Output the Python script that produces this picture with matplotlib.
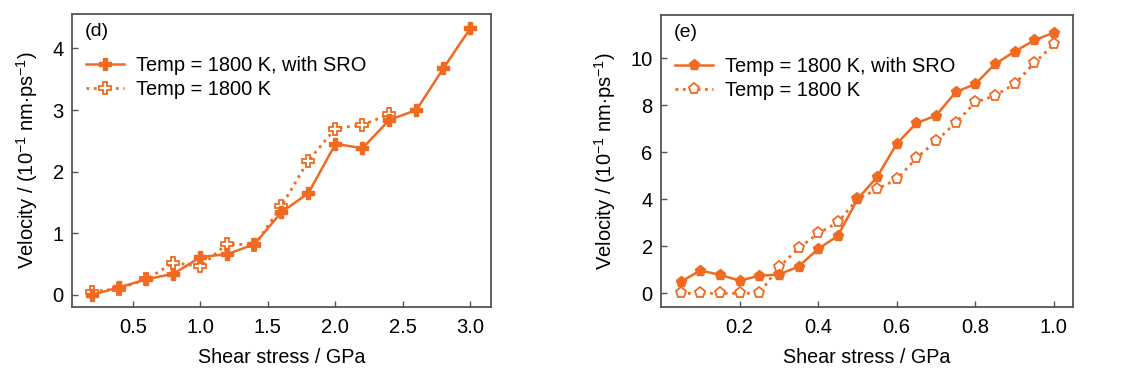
import matplotlib
matplotlib.use("Agg")
import matplotlib.pyplot as plt

plt.rcParams['font.family'] = ['Liberation Sans', 'DejaVu Sans']
plt.rcParams['mathtext.fontset'] = 'custom'
plt.rcParams['mathtext.rm'] = 'Liberation Sans'

ORANGE = '#F06A22'

# panel (d)
stress_d = [0.2, 0.4, 0.6, 0.8, 1.0, 1.2, 1.4, 1.6, 1.8, 2.0, 2.2, 2.4, 2.6, 2.8, 3.0]
sro_d = [0.0, 0.12, 0.25, 0.34, 0.61, 0.66, 0.82, 1.34, 1.65, 2.45, 2.38, 2.84, 3.0, 3.68, 4.33]
stress_d2 = [0.2, 0.4, 0.6, 0.8, 1.0, 1.2, 1.4, 1.6, 1.8, 2.0, 2.2, 2.4]
plain_d = [0.05, 0.1, 0.25, 0.52, 0.46, 0.83, 0.8, 1.44, 2.18, 2.7, 2.76, 2.93]

# panel (e)
stress_e = [0.05, 0.10, 0.15, 0.20, 0.25, 0.30, 0.35, 0.40, 0.45, 0.50,
            0.55, 0.60, 0.65, 0.70, 0.75, 0.80, 0.85, 0.90, 0.95, 1.00]
sro_e = [0.49, 0.97, 0.79, 0.54, 0.75, 0.8, 1.14, 1.89, 2.44, 4.0,
         4.95, 6.36, 7.24, 7.56, 8.56, 8.9, 9.75, 10.28, 10.76, 11.09]
plain_e = [0.0, 0.0, 0.0, 0.0, 0.0, 1.1, 1.92, 2.55, 3.02, 4.0,
           4.43, 4.85, 5.75, 6.47, 7.26, 8.12, 8.41, 8.9, 9.79, 10.59]

LABEL_SRO = 'Temp = 1800 K, with SRO'
LABEL_PLAIN = 'Temp = 1800 K'
YLABEL = 'Velocity / (10$^{-1}$ nm$\\cdot$ps$^{-1}$)'

fig = plt.figure(figsize=(11.28, 3.79), dpi=100)
ax1 = fig.add_axes([0.064, 0.19, 0.371, 0.773])
ax2 = fig.add_axes([0.586, 0.19, 0.365, 0.770])


def style(ax, tag):
    for s in ['top', 'right', 'left', 'bottom']:
        ax.spines[s].set_color('#555555')
        ax.spines[s].set_linewidth(1.3)
    ax.tick_params(direction='in', length=4, width=1, colors='#555555',
                   labelcolor='black', labelsize=14.5, top=False, right=False)
    ax.tick_params(axis='x', pad=8)
    ax.tick_params(axis='y', pad=6)
    ax.set_xlabel('Shear stress / GPa', fontsize=14.2, labelpad=8)
    ax.set_ylabel(YLABEL, fontsize=14.5, labelpad=9)
    ax.text(0.03, 0.97, tag, transform=ax.transAxes, fontsize=14, va='top', ha='left')
    h, l = ax.get_legend_handles_labels()
    ax.legend(h[::-1], l[::-1], loc='upper left', bbox_to_anchor=(0.0, 0.905),
              frameon=False, fontsize=14.4, handlelength=1.9, handletextpad=0.6,
              labelspacing=0.25, borderaxespad=0.3)


ax1.plot(stress_d2, plain_d, ls=':', lw=2, color=ORANGE, marker='P', ms=9,
         mfc='white', mec=ORANGE, mew=1.3, label=LABEL_PLAIN, zorder=2)
ax1.plot(stress_d, sro_d, ls='-', lw=1.8, color=ORANGE, marker='P', ms=9,
         mfc=ORANGE, mec=ORANGE, label=LABEL_SRO, zorder=3)
ax1.set_xlim(0.05, 3.15)
ax1.set_ylim(-0.2, 4.56)
ax1.set_xticks([0.5, 1.0, 1.5, 2.0, 2.5, 3.0])
ax1.set_xticklabels(['0.5', '1.0', '1.5', '2.0', '2.5', '3.0'])
ax1.set_yticks([0, 1, 2, 3, 4])
style(ax1, '(d)')

ax2.plot(stress_e, plain_e, ls=':', lw=2, color=ORANGE, marker='p', ms=8,
         mfc='white', mec=ORANGE, mew=1.3, label=LABEL_PLAIN, zorder=2)
ax2.plot(stress_e, sro_e, ls='-', lw=1.8, color=ORANGE, marker='p', ms=8,
         mfc=ORANGE, mec=ORANGE, label=LABEL_SRO, zorder=3)
ax2.set_xlim(0.0, 1.048)
ax2.set_ylim(-0.58, 11.83)
ax2.set_xticks([0.2, 0.4, 0.6, 0.8, 1.0])
ax2.set_yticks([0, 2, 4, 6, 8, 10])
style(ax2, '(e)')

fig.savefig('out.png', dpi=100)
